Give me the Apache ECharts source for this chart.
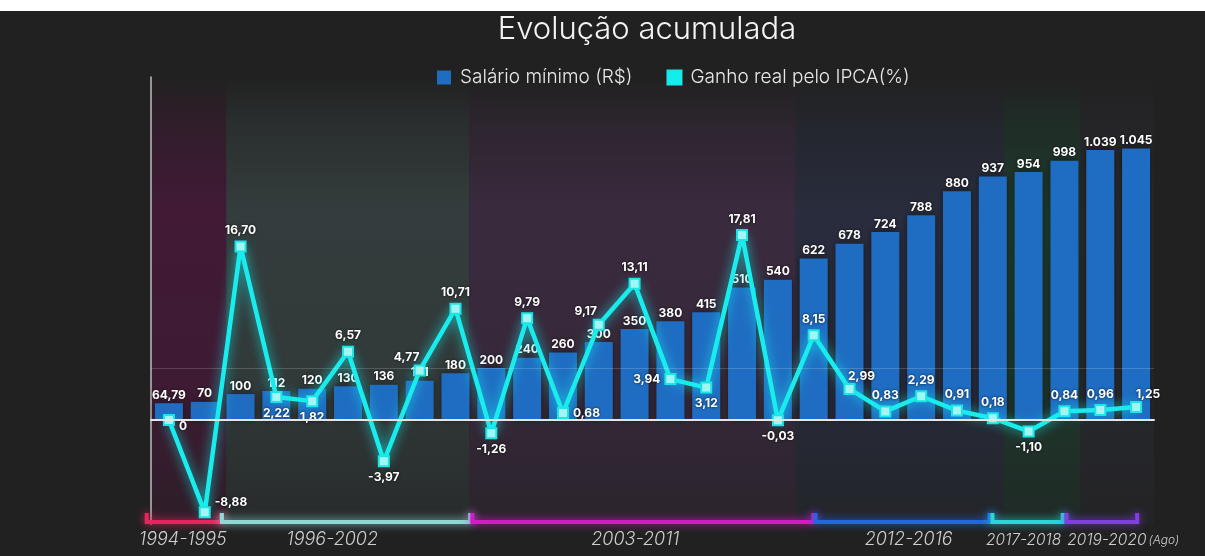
<!DOCTYPE html>
<html><head><meta charset="utf-8">
<script src="https://cdn.jsdelivr.net/npm/echarts@6/dist/echarts.min.js"></script>
<style>html,body{margin:0;padding:0;background:#212121;} #c{width:1205px;height:556px;}</style>
</head><body><div id="c"></div>
<script>
// ---- data ----
const categories = ['Jul/94','Set/94','Mai/95','Mai/96','Mai/97','Mai/98','Mai/99','Abr/00','Abr/01','Abr/02','Abr/03','Mai/04','Mai/05','Abr/06','Abr/07','Mar/08','Jan/10','Mar/11','Jan/12','Jan/13','Jan/14','Jan/15','Jan/16','Jan/17','Jan/18','Jan/19','Jan/20','Fev/20'];
const salarioMinimo = [64.79,70,100,112,120,130,136,151,180,200,240,260,300,350,380,415,510,540,622,678,724,788,880,937,954,998,1039,1045];
const ganhoReal = [0,-8.88,16.70,2.22,1.82,6.57,-3.97,4.77,10.71,-1.26,9.79,0.68,9.17,13.11,3.94,3.12,17.81,-0.03,8.15,2.99,0.83,2.29,0.91,0.18,-1.10,0.84,0.96,1.25];
const periodLabels = ['1994-1995','1996-2002','2003-2011','2012-2016','2017-2018','2019-2020'];
const periodNotes = ['','','','','','(Ago)'];

// ---- layout / style config ----
const bandSpan = [[0,2.1],[2.1,8.88],[8.88,18],[18,23.8],[23.8,25.95],[25.95,28]];
const bracketSpan = [[-0.12,1.96],[1.98,8.91],[8.97,18.49],[18.55,23.41],[23.49,25.45],[25.56,27.53]];
const labelAt = [0.89,5.06,13.52,21.15,24.36,27.14];
const labelFontSize = [18,18,18,18,15.5,15.5];
const bandRGB = [[66,26,54],[52,61,61],[58,42,62],[40,44,60],[30,58,46],[40,41,47]];
const bracketColors = ['#e8245f','#8fd8d5','#d31bc7','#2566e0','#2ad6d6','#7f3fe3'];
const ganhoLabelPos = ['rightlow','rightup','top','bottom','bottom','top','bottom','topleft','top','bottom','top','right','topleft','top','left','bottom','top','bottom','top','topright','top','top','top','top','bottom','top','top','topright'];

const FONT = 'Inter, "Noto Sans", sans-serif';
const BAR_COLOR = '#1f6dc2';
const CYAN = '#19ecec';

function fmtSal(v){
  if (Number.isInteger(v)) return String(v).replace(/\B(?=(\d{3})+(?!\d))/g,'.');
  return v.toFixed(2).replace('.',',');
}
function fmtPct(v){ return v === 0 ? '0' : v.toFixed(2).replace('.',','); }

function labelCfg(p){
  switch(p){
    case 'rightlow': return {position:'right', offset:[0,6]};
    case 'rightup': return {position:'right', offset:[0,-10]};
    case 'topleft': return {position:'top', offset:[-13,3]};
    case 'topright': return {position:'top', offset:[12,3]};
    default: return {position:p};
  }
}

const chart = echarts.init(document.getElementById('c'), null, {renderer:'canvas'});

const option = {
  backgroundColor: '#212121',
  animation: false,
  title: {
    text: 'Evolução acumulada', left: 642, top: 9, textAlign: 'center',
    textStyle: {color:'#f4f4f4', fontSize: 31, fontWeight: 300, fontFamily: FONT}
  },
  legend: {
    left: 432, top: 63, itemWidth: 14, itemHeight: 14, itemGap: 34, icon: 'rect',
    textStyle: {color:'#e8e8e8', fontSize: 19, fontWeight: 300, fontFamily: FONT, padding:[0,0,0,4]},
    data: [
      {name:'Salário mínimo (R$)', itemStyle:{color:BAR_COLOR}},
      {name:'Ganho real pelo IPCA(%)', itemStyle:{color:'#14eded'}}
    ]
  },
  graphic: [
    {type:'rect', left:0, top:0, shape:{width:1205, height:11}, style:{fill:'#ffffff'}, z:100}
  ],
  grid: {left: 151, right: 51, top: 77, bottom: 32, outerBoundsMode: 'none', containLabel: false},
  xAxis: [
    {type:'category', data: categories, boundaryGap: true,
     axisLine: {show:true, onZero:true, onZeroAxisIndex:0, lineStyle:{color:'#e6e6e6', width:2}},
     axisTick:{show:false}, axisLabel:{show:false}, splitLine:{show:false}, z: 5},
    {type:'value', min:0, max:28, show:false}
  ],
  yAxis: [
    {type:'value', min:-10, max:33, position:'left',
     axisLine:{show:true, onZero:false, lineStyle:{color:'#bdbdbd', width:1.5}},
     axisTick:{show:false}, axisLabel:{show:false}, splitLine:{show:false}},
    {type:'value', min:-400, max:1320, show:false, splitLine:{show:false}}
  ],
  series: [
    {
      type:'custom', name:'periodos', xAxisIndex:1, yAxisIndex:0, z:0, clip:false, silent:true,
      data: periodLabels.map((l,i)=>[bandSpan[i][0], bandSpan[i][1]]),
      encode: {x:[0,1]},
      renderItem: function(params, api){
        const i = params.dataIndex;
        const cs = params.coordSys;
        const top = cs.y, bottom = cs.y + cs.height;
        const bx0 = api.coord([bandSpan[i][0],0])[0];
        const bx1 = api.coord([bandSpan[i][1],0])[0];
        const kx0 = api.coord([bracketSpan[i][0],0])[0];
        const kx1 = api.coord([bracketSpan[i][1],0])[0];
        const lx = api.coord([labelAt[i],0])[0];
        const c = bandRGB[i];
        const rgba = a => `rgba(${c[0]},${c[1]},${c[2]},${a})`;
        const col = bracketColors[i];
        const fs = labelFontSize[i];
        const text = periodNotes[i] ? `{m|${periodLabels[i]}}{n|${periodNotes[i]}}` : `{m|${periodLabels[i]}}`;
        return {
          type:'group',
          children: [
            {type:'rect', shape:{x:bx0, y:top, width:bx1-bx0, height:bottom-top},
             style:{fill:{type:'linear', x:0, y:0, x2:0, y2:1, colorStops:[
               {offset:0, color:rgba(0)}, {offset:0.1, color:rgba(0.45)}, {offset:0.3, color:rgba(1)},
               {offset:0.7, color:rgba(0.85)}, {offset:1, color:rgba(0.35)}]}}},
            {type:'polyline', shape:{points:[[kx0,bottom-11],[kx0,bottom-2],[kx1,bottom-2],[kx1,bottom-11]]},
             style:{stroke:col, lineWidth:4, fill:null, shadowBlur:8, shadowColor:col}, z2: 10},
            {type:'text', x:lx, y:bottom+7 + (18-fs)*0.6,
             style:{text:text, align:'center', verticalAlign:'top',
               rich:{m:{fontSize:fs, fontStyle:'italic', fontWeight:300, fontFamily:FONT, fill:'#cfcfcf'},
                     n:{fontSize:12, fontStyle:'italic', fontWeight:300, fontFamily:FONT, fill:'#cfcfcf', padding:[0,0,0,2]}}}, z2: 10}
          ]
        };
      }
    },
    {
      type:'bar', name:'Salário mínimo (R$)', xAxisIndex:0, yAxisIndex:1, z:2,
      data: salarioMinimo, barWidth: 28,
      itemStyle:{color:BAR_COLOR, shadowBlur:6, shadowColor:'rgba(0,0,0,0.45)'},
      label:{show:true, position:'top', distance:2, formatter: p => fmtSal(p.value),
        color:'#ffffff', fontSize:12, fontWeight:'bold', fontFamily:FONT,
        textShadowColor:'rgba(0,0,0,0.7)', textShadowBlur:3}
    },
    {
      type:'line', name:'Ganho real pelo IPCA(%)', xAxisIndex:0, yAxisIndex:0, z:3,
      data: ganhoReal.map((v,i)=>({value:v, label: labelCfg(ganhoLabelPos[i])})),
      symbol:'rect', symbolSize:10, showAllSymbol:true,
      lineStyle:{color:CYAN, width:4.5, shadowBlur:12, shadowColor:'rgba(25,236,236,0.85)'},
      itemStyle:{color:'#a2f5f2', borderColor:'#1be6e6', borderWidth:2},
      label:{show:true, distance:4, formatter: p => fmtPct(p.value),
        color:'#ffffff', fontSize:12, fontWeight:'bold', fontFamily:FONT,
        textShadowColor:'rgba(0,0,0,0.8)', textShadowBlur:3},
      markLine:{silent:true, symbol:'none', label:{show:false},
        lineStyle:{color:'rgba(255,255,255,0.17)', width:1, type:'solid'},
        data:[{yAxis:5}]}
    }
  ]
};
chart.setOption(option);
</script>
</body></html>
